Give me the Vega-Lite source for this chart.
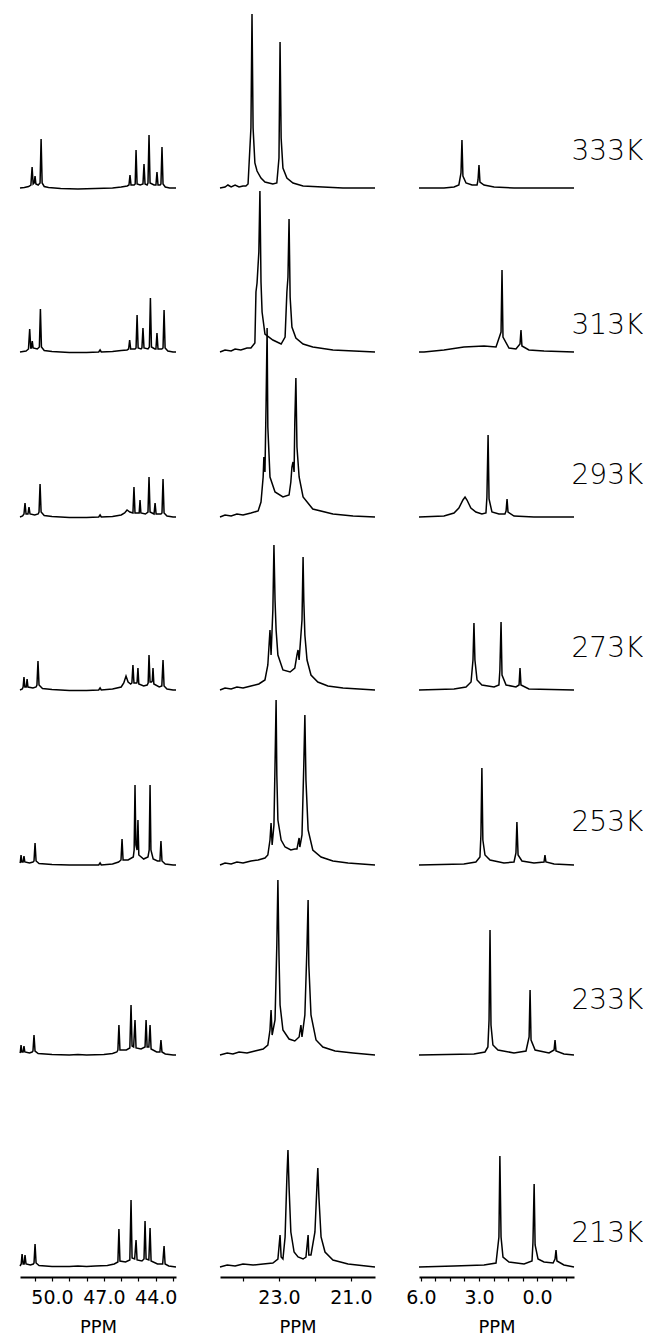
{
"$schema":"https://vega.github.io/schema/vega-lite/v6.json",
"padding":{"left":17,"top":0,"right":0,"bottom":0},
"background":"white",
"bounds":"flush",
"columns":3,
"spacing":{"row":0,"column":44},
"config":{"view":{"stroke":null},"line":{"color":"black","strokeWidth":1.5},
"axis":{"domainColor":"black","domainWidth":2,"tickColor":"black","tickSize":4,"tickWidth":1.2,"labelColor":"black","labelFont":"DejaVu Sans","labelFontWeight":"normal","labelFontSize":19,"titleFont":"DejaVu Sans","titleFontSize":18,"titleFontWeight":"normal","titleColor":"black","grid":false,"labelFlush":false,"labelOverlap":false}},
"datasets":{
"p1":[
{"t":"333K","ppm":51.85,"i":0},{"t":"333K","ppm":51.6,"i":0.5},{"t":"333K","ppm":51.35,"i":1.5},{"t":"333K","ppm":51.22,"i":3},{"t":"333K","ppm":51.15,"i":21},{"t":"333K","ppm":51.09,"i":4},{"t":"333K","ppm":51.03,"i":5},{"t":"333K","ppm":50.98,"i":12},{"t":"333K","ppm":50.93,"i":4},{"t":"333K","ppm":50.8,"i":3},{"t":"333K","ppm":50.69,"i":5},{"t":"333K","ppm":50.63,"i":49},{"t":"333K","ppm":50.57,"i":5},{"t":"333K","ppm":50.45,"i":1.5},{"t":"333K","ppm":50.2,"i":0.5},{"t":"333K","ppm":49.5,"i":-0.5},{"t":"333K","ppm":48.5,"i":-1},{"t":"333K","ppm":47.5,"i":-0.5},{"t":"333K","ppm":46.5,"i":0},{"t":"333K","ppm":46,"i":1},{"t":"333K","ppm":45.65,"i":2},{"t":"333K","ppm":45.55,"i":3},{"t":"333K","ppm":45.49,"i":13},{"t":"333K","ppm":45.43,"i":3},{"t":"333K","ppm":45.25,"i":3},{"t":"333K","ppm":45.19,"i":4},{"t":"333K","ppm":45.14,"i":38},{"t":"333K","ppm":45.08,"i":4},{"t":"333K","ppm":44.9,"i":3},{"t":"333K","ppm":44.74,"i":4},{"t":"333K","ppm":44.68,"i":24},{"t":"333K","ppm":44.62,"i":4},{"t":"333K","ppm":44.5,"i":3},{"t":"333K","ppm":44.45,"i":5},{"t":"333K","ppm":44.39,"i":53},{"t":"333K","ppm":44.33,"i":5},{"t":"333K","ppm":44.1,"i":3},{"t":"333K","ppm":43.99,"i":3},{"t":"333K","ppm":43.93,"i":16},{"t":"333K","ppm":43.87,"i":3},{"t":"333K","ppm":43.75,"i":3},{"t":"333K","ppm":43.7,"i":4},{"t":"333K","ppm":43.64,"i":41},{"t":"333K","ppm":43.58,"i":4},{"t":"333K","ppm":43.45,"i":1},{"t":"333K","ppm":43.2,"i":0},{"t":"333K","ppm":42.83,"i":0},
{"t":"313K","ppm":51.85,"i":0},{"t":"313K","ppm":51.5,"i":1},{"t":"313K","ppm":51.36,"i":3},{"t":"313K","ppm":51.29,"i":23},{"t":"313K","ppm":51.23,"i":4},{"t":"313K","ppm":51.19,"i":4},{"t":"313K","ppm":51.14,"i":11},{"t":"313K","ppm":51.09,"i":4},{"t":"313K","ppm":50.85,"i":3},{"t":"313K","ppm":50.73,"i":5},{"t":"313K","ppm":50.67,"i":43},{"t":"313K","ppm":50.61,"i":5},{"t":"313K","ppm":50.45,"i":1.5},{"t":"313K","ppm":50,"i":0.5},{"t":"313K","ppm":49,"i":-0.5},{"t":"313K","ppm":48,"i":-0.5},{"t":"313K","ppm":47.3,"i":0},{"t":"313K","ppm":47.22,"i":2},{"t":"313K","ppm":47.15,"i":0},{"t":"313K","ppm":46.5,"i":0.5},{"t":"313K","ppm":46,"i":1.5},{"t":"313K","ppm":45.66,"i":2},{"t":"313K","ppm":45.57,"i":3},{"t":"313K","ppm":45.51,"i":12},{"t":"313K","ppm":45.45,"i":3},{"t":"313K","ppm":45.2,"i":3},{"t":"313K","ppm":45.14,"i":4},{"t":"313K","ppm":45.08,"i":37},{"t":"313K","ppm":45.02,"i":4},{"t":"313K","ppm":44.85,"i":3},{"t":"313K","ppm":44.8,"i":4},{"t":"313K","ppm":44.74,"i":24},{"t":"313K","ppm":44.68,"i":4},{"t":"313K","ppm":44.45,"i":3},{"t":"313K","ppm":44.37,"i":5},{"t":"313K","ppm":44.31,"i":54},{"t":"313K","ppm":44.25,"i":5},{"t":"313K","ppm":44.05,"i":3},{"t":"313K","ppm":43.99,"i":3},{"t":"313K","ppm":43.93,"i":19},{"t":"313K","ppm":43.87,"i":3},{"t":"313K","ppm":43.65,"i":3},{"t":"313K","ppm":43.58,"i":4},{"t":"313K","ppm":43.52,"i":42},{"t":"313K","ppm":43.46,"i":4},{"t":"313K","ppm":43.3,"i":1},{"t":"313K","ppm":43,"i":0},{"t":"313K","ppm":42.83,"i":0},
{"t":"293K","ppm":51.85,"i":0},{"t":"293K","ppm":51.7,"i":1},{"t":"293K","ppm":51.62,"i":3},{"t":"293K","ppm":51.56,"i":14},{"t":"293K","ppm":51.5,"i":3},{"t":"293K","ppm":51.39,"i":3},{"t":"293K","ppm":51.33,"i":10},{"t":"293K","ppm":51.27,"i":3},{"t":"293K","ppm":51,"i":2},{"t":"293K","ppm":50.8,"i":3},{"t":"293K","ppm":50.75,"i":5},{"t":"293K","ppm":50.69,"i":33},{"t":"293K","ppm":50.63,"i":5},{"t":"293K","ppm":50.45,"i":1.5},{"t":"293K","ppm":50,"i":0.5},{"t":"293K","ppm":49,"i":-0.5},{"t":"293K","ppm":48,"i":-0.5},{"t":"293K","ppm":47.3,"i":0},{"t":"293K","ppm":47.22,"i":2},{"t":"293K","ppm":47.15,"i":0},{"t":"293K","ppm":46.5,"i":0.5},{"t":"293K","ppm":46,"i":2},{"t":"293K","ppm":45.8,"i":4},{"t":"293K","ppm":45.66,"i":7},{"t":"293K","ppm":45.5,"i":5},{"t":"293K","ppm":45.32,"i":4},{"t":"293K","ppm":45.26,"i":30},{"t":"293K","ppm":45.2,"i":4},{"t":"293K","ppm":45,"i":4},{"t":"293K","ppm":44.96,"i":4},{"t":"293K","ppm":44.91,"i":17},{"t":"293K","ppm":44.86,"i":4},{"t":"293K","ppm":44.6,"i":3},{"t":"293K","ppm":44.45,"i":5},{"t":"293K","ppm":44.39,"i":40},{"t":"293K","ppm":44.33,"i":5},{"t":"293K","ppm":44.1,"i":3},{"t":"293K","ppm":44.04,"i":14},{"t":"293K","ppm":43.98,"i":3},{"t":"293K","ppm":43.7,"i":3},{"t":"293K","ppm":43.64,"i":4},{"t":"293K","ppm":43.58,"i":38},{"t":"293K","ppm":43.52,"i":4},{"t":"293K","ppm":43.35,"i":1},{"t":"293K","ppm":43,"i":0},{"t":"293K","ppm":42.83,"i":0},
{"t":"273K","ppm":51.85,"i":0},{"t":"273K","ppm":51.72,"i":1},{"t":"273K","ppm":51.67,"i":3},{"t":"273K","ppm":51.62,"i":13},{"t":"273K","ppm":51.57,"i":3},{"t":"273K","ppm":51.49,"i":3},{"t":"273K","ppm":51.44,"i":11},{"t":"273K","ppm":51.39,"i":3},{"t":"273K","ppm":51.1,"i":2},{"t":"273K","ppm":50.92,"i":3},{"t":"273K","ppm":50.87,"i":5},{"t":"273K","ppm":50.81,"i":29},{"t":"273K","ppm":50.75,"i":5},{"t":"273K","ppm":50.55,"i":1.5},{"t":"273K","ppm":50,"i":0.5},{"t":"273K","ppm":49,"i":-0.5},{"t":"273K","ppm":48,"i":-0.5},{"t":"273K","ppm":47.3,"i":0},{"t":"273K","ppm":47.22,"i":2},{"t":"273K","ppm":47.15,"i":0},{"t":"273K","ppm":46.5,"i":1},{"t":"273K","ppm":46,"i":3},{"t":"273K","ppm":45.85,"i":7},{"t":"273K","ppm":45.72,"i":14},{"t":"273K","ppm":45.6,"i":8},{"t":"273K","ppm":45.45,"i":6},{"t":"273K","ppm":45.38,"i":7},{"t":"273K","ppm":45.32,"i":25},{"t":"273K","ppm":45.26,"i":7},{"t":"273K","ppm":45.1,"i":7},{"t":"273K","ppm":45.08,"i":8},{"t":"273K","ppm":45.03,"i":22},{"t":"273K","ppm":44.98,"i":6},{"t":"273K","ppm":44.7,"i":4},{"t":"273K","ppm":44.5,"i":5},{"t":"273K","ppm":44.44,"i":7},{"t":"273K","ppm":44.39,"i":35},{"t":"273K","ppm":44.33,"i":8},{"t":"273K","ppm":44.24,"i":8},{"t":"273K","ppm":44.2,"i":9},{"t":"273K","ppm":44.16,"i":22},{"t":"273K","ppm":44.11,"i":6},{"t":"273K","ppm":43.8,"i":3},{"t":"273K","ppm":43.65,"i":4},{"t":"273K","ppm":43.58,"i":30},{"t":"273K","ppm":43.52,"i":4},{"t":"273K","ppm":43.35,"i":1},{"t":"273K","ppm":43,"i":0},{"t":"273K","ppm":42.83,"i":0},
{"t":"253K","ppm":51.85,"i":2},{"t":"253K","ppm":51.83,"i":3},{"t":"253K","ppm":51.79,"i":10},{"t":"253K","ppm":51.74,"i":3},{"t":"253K","ppm":51.67,"i":3},{"t":"253K","ppm":51.62,"i":9},{"t":"253K","ppm":51.57,"i":3},{"t":"253K","ppm":51.3,"i":2},{"t":"253K","ppm":51.1,"i":3},{"t":"253K","ppm":51.04,"i":4},{"t":"253K","ppm":50.98,"i":22},{"t":"253K","ppm":50.92,"i":4},{"t":"253K","ppm":50.75,"i":1.5},{"t":"253K","ppm":50,"i":0.5},{"t":"253K","ppm":49,"i":0},{"t":"253K","ppm":48,"i":0},{"t":"253K","ppm":47.3,"i":0},{"t":"253K","ppm":47.22,"i":2},{"t":"253K","ppm":47.15,"i":0},{"t":"253K","ppm":46.5,"i":1},{"t":"253K","ppm":46.15,"i":3},{"t":"253K","ppm":46.01,"i":5},{"t":"253K","ppm":45.95,"i":26},{"t":"253K","ppm":45.89,"i":5},{"t":"253K","ppm":45.6,"i":5},{"t":"253K","ppm":45.3,"i":8},{"t":"253K","ppm":45.25,"i":15},{"t":"253K","ppm":45.2,"i":80},{"t":"253K","ppm":45.15,"i":20},{"t":"253K","ppm":45.08,"i":15},{"t":"253K","ppm":45.03,"i":45},{"t":"253K","ppm":44.98,"i":10},{"t":"253K","ppm":44.7,"i":6},{"t":"253K","ppm":44.45,"i":8},{"t":"253K","ppm":44.38,"i":15},{"t":"253K","ppm":44.33,"i":80},{"t":"253K","ppm":44.28,"i":15},{"t":"253K","ppm":44.15,"i":6},{"t":"253K","ppm":43.9,"i":4},{"t":"253K","ppm":43.76,"i":4},{"t":"253K","ppm":43.7,"i":24},{"t":"253K","ppm":43.64,"i":4},{"t":"253K","ppm":43.45,"i":1},{"t":"253K","ppm":43,"i":0},{"t":"253K","ppm":42.83,"i":0},
{"t":"233K","ppm":51.85,"i":2},{"t":"233K","ppm":51.83,"i":3},{"t":"233K","ppm":51.79,"i":10},{"t":"233K","ppm":51.74,"i":3},{"t":"233K","ppm":51.67,"i":3},{"t":"233K","ppm":51.62,"i":9},{"t":"233K","ppm":51.57,"i":3},{"t":"233K","ppm":51.3,"i":2},{"t":"233K","ppm":51.15,"i":3},{"t":"233K","ppm":51.1,"i":4},{"t":"233K","ppm":51.04,"i":20},{"t":"233K","ppm":50.98,"i":4},{"t":"233K","ppm":50.8,"i":1.5},{"t":"233K","ppm":50,"i":0.5},{"t":"233K","ppm":49,"i":0},{"t":"233K","ppm":48.5,"i":0.5},{"t":"233K","ppm":48,"i":0},{"t":"233K","ppm":47,"i":0.5},{"t":"233K","ppm":46.5,"i":1.5},{"t":"233K","ppm":46.25,"i":3},{"t":"233K","ppm":46.19,"i":5},{"t":"233K","ppm":46.13,"i":30},{"t":"233K","ppm":46.07,"i":5},{"t":"233K","ppm":45.7,"i":5},{"t":"233K","ppm":45.5,"i":7},{"t":"233K","ppm":45.43,"i":50},{"t":"233K","ppm":45.37,"i":9},{"t":"233K","ppm":45.28,"i":8},{"t":"233K","ppm":45.2,"i":35},{"t":"233K","ppm":45.14,"i":7},{"t":"233K","ppm":44.85,"i":6},{"t":"233K","ppm":44.62,"i":8},{"t":"233K","ppm":44.56,"i":35},{"t":"233K","ppm":44.5,"i":8},{"t":"233K","ppm":44.4,"i":8},{"t":"233K","ppm":44.33,"i":30},{"t":"233K","ppm":44.27,"i":6},{"t":"233K","ppm":43.95,"i":3},{"t":"233K","ppm":43.76,"i":3},{"t":"233K","ppm":43.7,"i":15},{"t":"233K","ppm":43.64,"i":3},{"t":"233K","ppm":43.45,"i":1},{"t":"233K","ppm":43,"i":0},{"t":"233K","ppm":42.83,"i":0},
{"t":"213K","ppm":51.85,"i":1},{"t":"213K","ppm":51.78,"i":3},{"t":"213K","ppm":51.73,"i":13},{"t":"213K","ppm":51.67,"i":3},{"t":"213K","ppm":51.61,"i":3},{"t":"213K","ppm":51.56,"i":12},{"t":"213K","ppm":51.5,"i":3},{"t":"213K","ppm":51.25,"i":2},{"t":"213K","ppm":51.08,"i":3},{"t":"213K","ppm":51.04,"i":4},{"t":"213K","ppm":50.98,"i":23},{"t":"213K","ppm":50.92,"i":4},{"t":"213K","ppm":50.75,"i":1.5},{"t":"213K","ppm":50,"i":0.5},{"t":"213K","ppm":49,"i":0.5},{"t":"213K","ppm":48.5,"i":1},{"t":"213K","ppm":48,"i":0.5},{"t":"213K","ppm":47.5,"i":1},{"t":"213K","ppm":46.8,"i":1.5},{"t":"213K","ppm":46.4,"i":3},{"t":"213K","ppm":46.19,"i":5},{"t":"213K","ppm":46.13,"i":38},{"t":"213K","ppm":46.07,"i":6},{"t":"213K","ppm":45.75,"i":5},{"t":"213K","ppm":45.5,"i":7},{"t":"213K","ppm":45.43,"i":67},{"t":"213K","ppm":45.37,"i":9},{"t":"213K","ppm":45.22,"i":8},{"t":"213K","ppm":45.14,"i":27},{"t":"213K","ppm":45.08,"i":7},{"t":"213K","ppm":44.8,"i":6},{"t":"213K","ppm":44.68,"i":8},{"t":"213K","ppm":44.62,"i":46},{"t":"213K","ppm":44.56,"i":8},{"t":"213K","ppm":44.4,"i":7},{"t":"213K","ppm":44.33,"i":39},{"t":"213K","ppm":44.27,"i":6},{"t":"213K","ppm":43.9,"i":3},{"t":"213K","ppm":43.6,"i":3},{"t":"213K","ppm":43.52,"i":21},{"t":"213K","ppm":43.46,"i":3},{"t":"213K","ppm":43.25,"i":1},{"t":"213K","ppm":42.83,"i":0}
],
"p2":[
{"t":"333K","ppm":24.64,"i":0},{"t":"333K","ppm":24.5,"i":1},{"t":"333K","ppm":24.42,"i":3},{"t":"333K","ppm":24.33,"i":1},{"t":"333K","ppm":24.22,"i":3},{"t":"333K","ppm":24.11,"i":1},{"t":"333K","ppm":24,"i":2},{"t":"333K","ppm":23.92,"i":2},{"t":"333K","ppm":23.86,"i":4},{"t":"333K","ppm":23.78,"i":60},{"t":"333K","ppm":23.75,"i":174},{"t":"333K","ppm":23.72,"i":60},{"t":"333K","ppm":23.67,"i":25},{"t":"333K","ppm":23.61,"i":17},{"t":"333K","ppm":23.5,"i":10},{"t":"333K","ppm":23.39,"i":6},{"t":"333K","ppm":23.17,"i":4},{"t":"333K","ppm":23.06,"i":5},{"t":"333K","ppm":23,"i":30},{"t":"333K","ppm":22.97,"i":146},{"t":"333K","ppm":22.94,"i":50},{"t":"333K","ppm":22.89,"i":20},{"t":"333K","ppm":22.78,"i":10},{"t":"333K","ppm":22.61,"i":5},{"t":"333K","ppm":22.33,"i":2},{"t":"333K","ppm":21.78,"i":1},{"t":"333K","ppm":21.22,"i":0},{"t":"333K","ppm":20.33,"i":0},
{"t":"313K","ppm":24.64,"i":0},{"t":"313K","ppm":24.5,"i":2},{"t":"313K","ppm":24.33,"i":1},{"t":"313K","ppm":24.22,"i":3},{"t":"313K","ppm":24.06,"i":2},{"t":"313K","ppm":23.89,"i":4},{"t":"313K","ppm":23.78,"i":4},{"t":"313K","ppm":23.67,"i":9},{"t":"313K","ppm":23.64,"i":60},{"t":"313K","ppm":23.61,"i":69},{"t":"313K","ppm":23.56,"i":100},{"t":"313K","ppm":23.53,"i":161},{"t":"313K","ppm":23.5,"i":70},{"t":"313K","ppm":23.47,"i":40},{"t":"313K","ppm":23.39,"i":18},{"t":"313K","ppm":23.17,"i":12},{"t":"313K","ppm":22.94,"i":8},{"t":"313K","ppm":22.83,"i":15},{"t":"313K","ppm":22.78,"i":60},{"t":"313K","ppm":22.75,"i":75},{"t":"313K","ppm":22.72,"i":133},{"t":"313K","ppm":22.69,"i":55},{"t":"313K","ppm":22.64,"i":25},{"t":"313K","ppm":22.53,"i":14},{"t":"313K","ppm":22.33,"i":8},{"t":"313K","ppm":22.06,"i":5},{"t":"313K","ppm":21.5,"i":2},{"t":"313K","ppm":20.33,"i":0},
{"t":"293K","ppm":24.64,"i":0},{"t":"293K","ppm":24.5,"i":2},{"t":"293K","ppm":24.33,"i":1},{"t":"293K","ppm":24.17,"i":3},{"t":"293K","ppm":24,"i":2},{"t":"293K","ppm":23.78,"i":4},{"t":"293K","ppm":23.58,"i":6},{"t":"293K","ppm":23.5,"i":15},{"t":"293K","ppm":23.44,"i":40},{"t":"293K","ppm":23.42,"i":60},{"t":"293K","ppm":23.39,"i":45},{"t":"293K","ppm":23.36,"i":110},{"t":"293K","ppm":23.33,"i":189},{"t":"293K","ppm":23.31,"i":90},{"t":"293K","ppm":23.25,"i":40},{"t":"293K","ppm":23.11,"i":25},{"t":"293K","ppm":22.89,"i":20},{"t":"293K","ppm":22.72,"i":22},{"t":"293K","ppm":22.67,"i":35},{"t":"293K","ppm":22.64,"i":50},{"t":"293K","ppm":22.61,"i":55},{"t":"293K","ppm":22.58,"i":45},{"t":"293K","ppm":22.56,"i":95},{"t":"293K","ppm":22.53,"i":139},{"t":"293K","ppm":22.5,"i":70},{"t":"293K","ppm":22.44,"i":40},{"t":"293K","ppm":22.33,"i":20},{"t":"293K","ppm":22.06,"i":8},{"t":"293K","ppm":21.5,"i":3},{"t":"293K","ppm":20.94,"i":1},{"t":"293K","ppm":20.33,"i":0},
{"t":"273K","ppm":24.64,"i":0},{"t":"273K","ppm":24.5,"i":2},{"t":"273K","ppm":24.33,"i":1},{"t":"273K","ppm":24.17,"i":3},{"t":"273K","ppm":24,"i":2},{"t":"273K","ppm":23.78,"i":4},{"t":"273K","ppm":23.56,"i":6},{"t":"273K","ppm":23.39,"i":10},{"t":"273K","ppm":23.31,"i":25},{"t":"273K","ppm":23.25,"i":60},{"t":"273K","ppm":23.22,"i":35},{"t":"273K","ppm":23.17,"i":80},{"t":"273K","ppm":23.14,"i":145},{"t":"273K","ppm":23.11,"i":90},{"t":"273K","ppm":23.08,"i":60},{"t":"273K","ppm":23.03,"i":35},{"t":"273K","ppm":22.89,"i":20},{"t":"273K","ppm":22.69,"i":18},{"t":"273K","ppm":22.56,"i":22},{"t":"273K","ppm":22.5,"i":35},{"t":"273K","ppm":22.47,"i":40},{"t":"273K","ppm":22.44,"i":30},{"t":"273K","ppm":22.36,"i":70},{"t":"273K","ppm":22.33,"i":133},{"t":"273K","ppm":22.31,"i":90},{"t":"273K","ppm":22.28,"i":55},{"t":"273K","ppm":22.22,"i":30},{"t":"273K","ppm":22.11,"i":15},{"t":"273K","ppm":21.92,"i":8},{"t":"273K","ppm":21.64,"i":4},{"t":"273K","ppm":21.22,"i":2},{"t":"273K","ppm":20.33,"i":0},
{"t":"253K","ppm":24.64,"i":0},{"t":"253K","ppm":24.5,"i":2},{"t":"253K","ppm":24.33,"i":1},{"t":"253K","ppm":24.17,"i":3},{"t":"253K","ppm":24,"i":2},{"t":"253K","ppm":23.78,"i":4},{"t":"253K","ppm":23.58,"i":5},{"t":"253K","ppm":23.39,"i":7},{"t":"253K","ppm":23.31,"i":10},{"t":"253K","ppm":23.25,"i":25},{"t":"253K","ppm":23.22,"i":42},{"t":"253K","ppm":23.19,"i":20},{"t":"253K","ppm":23.14,"i":40},{"t":"253K","ppm":23.11,"i":100},{"t":"253K","ppm":23.08,"i":165},{"t":"253K","ppm":23.06,"i":90},{"t":"253K","ppm":23.03,"i":45},{"t":"253K","ppm":22.94,"i":25},{"t":"253K","ppm":22.83,"i":18},{"t":"253K","ppm":22.67,"i":15},{"t":"253K","ppm":22.56,"i":16},{"t":"253K","ppm":22.5,"i":16},{"t":"253K","ppm":22.44,"i":27},{"t":"253K","ppm":22.42,"i":18},{"t":"253K","ppm":22.36,"i":30},{"t":"253K","ppm":22.31,"i":100},{"t":"253K","ppm":22.28,"i":150},{"t":"253K","ppm":22.25,"i":85},{"t":"253K","ppm":22.19,"i":35},{"t":"253K","ppm":22.06,"i":15},{"t":"253K","ppm":21.83,"i":8},{"t":"253K","ppm":21.5,"i":4},{"t":"253K","ppm":21.08,"i":2},{"t":"253K","ppm":20.33,"i":0},
{"t":"233K","ppm":24.64,"i":0},{"t":"233K","ppm":24.44,"i":2},{"t":"233K","ppm":24.28,"i":1},{"t":"233K","ppm":24.11,"i":3},{"t":"233K","ppm":23.89,"i":2},{"t":"233K","ppm":23.67,"i":4},{"t":"233K","ppm":23.44,"i":6},{"t":"233K","ppm":23.31,"i":10},{"t":"233K","ppm":23.25,"i":25},{"t":"233K","ppm":23.22,"i":45},{"t":"233K","ppm":23.19,"i":20},{"t":"233K","ppm":23.11,"i":35},{"t":"233K","ppm":23.06,"i":110},{"t":"233K","ppm":23.03,"i":175},{"t":"233K","ppm":23,"i":100},{"t":"233K","ppm":22.97,"i":50},{"t":"233K","ppm":22.89,"i":25},{"t":"233K","ppm":22.72,"i":16},{"t":"233K","ppm":22.56,"i":14},{"t":"233K","ppm":22.44,"i":18},{"t":"233K","ppm":22.39,"i":30},{"t":"233K","ppm":22.36,"i":18},{"t":"233K","ppm":22.28,"i":40},{"t":"233K","ppm":22.22,"i":110},{"t":"233K","ppm":22.19,"i":155},{"t":"233K","ppm":22.17,"i":90},{"t":"233K","ppm":22.11,"i":40},{"t":"233K","ppm":21.97,"i":15},{"t":"233K","ppm":21.78,"i":8},{"t":"233K","ppm":21.44,"i":4},{"t":"233K","ppm":20.94,"i":2},{"t":"233K","ppm":20.33,"i":0},
{"t":"213K","ppm":24.64,"i":0},{"t":"213K","ppm":24.44,"i":2},{"t":"213K","ppm":24.22,"i":1},{"t":"213K","ppm":24,"i":3},{"t":"213K","ppm":23.72,"i":2},{"t":"213K","ppm":23.44,"i":3},{"t":"213K","ppm":23.17,"i":4},{"t":"213K","ppm":23.03,"i":8},{"t":"213K","ppm":22.97,"i":32},{"t":"213K","ppm":22.94,"i":10},{"t":"213K","ppm":22.89,"i":8},{"t":"213K","ppm":22.83,"i":30},{"t":"213K","ppm":22.78,"i":90},{"t":"213K","ppm":22.75,"i":117},{"t":"213K","ppm":22.72,"i":80},{"t":"213K","ppm":22.67,"i":35},{"t":"213K","ppm":22.58,"i":15},{"t":"213K","ppm":22.47,"i":10},{"t":"213K","ppm":22.33,"i":8},{"t":"213K","ppm":22.25,"i":10},{"t":"213K","ppm":22.19,"i":32},{"t":"213K","ppm":22.17,"i":12},{"t":"213K","ppm":22.11,"i":12},{"t":"213K","ppm":22,"i":35},{"t":"213K","ppm":21.94,"i":85},{"t":"213K","ppm":21.92,"i":99},{"t":"213K","ppm":21.89,"i":70},{"t":"213K","ppm":21.83,"i":30},{"t":"213K","ppm":21.72,"i":15},{"t":"213K","ppm":21.5,"i":7},{"t":"213K","ppm":21.08,"i":3},{"t":"213K","ppm":20.33,"i":0}
],
"p3":[
{"t":"333K","ppm":6.1,"i":0},{"t":"333K","ppm":4.81,"i":0},{"t":"333K","ppm":4.29,"i":1},{"t":"333K","ppm":4.04,"i":3},{"t":"333K","ppm":3.93,"i":15},{"t":"333K","ppm":3.88,"i":48},{"t":"333K","ppm":3.83,"i":12},{"t":"333K","ppm":3.67,"i":5},{"t":"333K","ppm":3.36,"i":3},{"t":"333K","ppm":3.1,"i":3},{"t":"333K","ppm":3.05,"i":8},{"t":"333K","ppm":3,"i":23},{"t":"333K","ppm":2.95,"i":6},{"t":"333K","ppm":2.74,"i":3},{"t":"333K","ppm":2.22,"i":1},{"t":"333K","ppm":1.19,"i":0},{"t":"333K","ppm":-1.91,"i":0},
{"t":"313K","ppm":6.1,"i":0},{"t":"313K","ppm":5.84,"i":0},{"t":"313K","ppm":4.81,"i":2},{"t":"313K","ppm":3.78,"i":5},{"t":"313K","ppm":2.74,"i":6},{"t":"313K","ppm":2.12,"i":5},{"t":"313K","ppm":1.86,"i":20},{"t":"313K","ppm":1.81,"i":82},{"t":"313K","ppm":1.76,"i":15},{"t":"313K","ppm":1.45,"i":4},{"t":"313K","ppm":1.09,"i":3},{"t":"313K","ppm":0.88,"i":8},{"t":"313K","ppm":0.83,"i":22},{"t":"313K","ppm":0.78,"i":6},{"t":"313K","ppm":0.42,"i":2},{"t":"313K","ppm":-0.36,"i":1},{"t":"313K","ppm":-1.91,"i":0},
{"t":"293K","ppm":6.1,"i":0},{"t":"293K","ppm":4.81,"i":1},{"t":"293K","ppm":4.29,"i":4},{"t":"293K","ppm":4.04,"i":9},{"t":"293K","ppm":3.83,"i":17},{"t":"293K","ppm":3.72,"i":20},{"t":"293K","ppm":3.62,"i":17},{"t":"293K","ppm":3.42,"i":9},{"t":"293K","ppm":3.16,"i":5},{"t":"293K","ppm":2.85,"i":3},{"t":"293K","ppm":2.64,"i":4},{"t":"293K","ppm":2.59,"i":20},{"t":"293K","ppm":2.53,"i":82},{"t":"293K","ppm":2.48,"i":18},{"t":"293K","ppm":2.33,"i":5},{"t":"293K","ppm":1.97,"i":3},{"t":"293K","ppm":1.66,"i":3},{"t":"293K","ppm":1.6,"i":6},{"t":"293K","ppm":1.55,"i":18},{"t":"293K","ppm":1.5,"i":5},{"t":"293K","ppm":1.19,"i":1},{"t":"293K","ppm":0.16,"i":0},{"t":"293K","ppm":-1.91,"i":0},
{"t":"273K","ppm":6.1,"i":0},{"t":"273K","ppm":4.29,"i":1},{"t":"273K","ppm":3.67,"i":3},{"t":"273K","ppm":3.41,"i":8},{"t":"273K","ppm":3.31,"i":30},{"t":"273K","ppm":3.26,"i":67},{"t":"273K","ppm":3.21,"i":30},{"t":"273K","ppm":3.1,"i":10},{"t":"273K","ppm":2.85,"i":5},{"t":"273K","ppm":2.22,"i":3},{"t":"273K","ppm":1.97,"i":5},{"t":"273K","ppm":1.92,"i":20},{"t":"273K","ppm":1.86,"i":68},{"t":"273K","ppm":1.81,"i":15},{"t":"273K","ppm":1.6,"i":5},{"t":"273K","ppm":1.09,"i":3},{"t":"273K","ppm":0.93,"i":5},{"t":"273K","ppm":0.88,"i":22},{"t":"273K","ppm":0.83,"i":5},{"t":"273K","ppm":0.42,"i":1},{"t":"273K","ppm":-1.91,"i":0},
{"t":"253K","ppm":6.1,"i":0},{"t":"253K","ppm":3.78,"i":1},{"t":"253K","ppm":3.16,"i":3},{"t":"253K","ppm":2.95,"i":8},{"t":"253K","ppm":2.9,"i":30},{"t":"253K","ppm":2.85,"i":97},{"t":"253K","ppm":2.8,"i":25},{"t":"253K","ppm":2.69,"i":10},{"t":"253K","ppm":2.43,"i":5},{"t":"253K","ppm":1.71,"i":2},{"t":"253K","ppm":1.19,"i":3},{"t":"253K","ppm":1.09,"i":12},{"t":"253K","ppm":1.04,"i":43},{"t":"253K","ppm":0.98,"i":10},{"t":"253K","ppm":0.78,"i":4},{"t":"253K","ppm":0.16,"i":2},{"t":"253K","ppm":-0.36,"i":3},{"t":"253K","ppm":-0.41,"i":10},{"t":"253K","ppm":-0.46,"i":3},{"t":"253K","ppm":-0.88,"i":1},{"t":"253K","ppm":-1.91,"i":0},
{"t":"233K","ppm":6.1,"i":0},{"t":"233K","ppm":3.26,"i":1},{"t":"233K","ppm":2.69,"i":3},{"t":"233K","ppm":2.54,"i":8},{"t":"233K","ppm":2.48,"i":35},{"t":"233K","ppm":2.43,"i":125},{"t":"233K","ppm":2.38,"i":30},{"t":"233K","ppm":2.28,"i":10},{"t":"233K","ppm":2.02,"i":5},{"t":"233K","ppm":1.19,"i":2},{"t":"233K","ppm":0.57,"i":4},{"t":"233K","ppm":0.41,"i":18},{"t":"233K","ppm":0.36,"i":65},{"t":"233K","ppm":0.31,"i":15},{"t":"233K","ppm":0.1,"i":5},{"t":"233K","ppm":-0.62,"i":2},{"t":"233K","ppm":-0.88,"i":5},{"t":"233K","ppm":-0.93,"i":15},{"t":"233K","ppm":-0.98,"i":4},{"t":"233K","ppm":-1.39,"i":1},{"t":"233K","ppm":-1.91,"i":0},
{"t":"213K","ppm":6.1,"i":0},{"t":"213K","ppm":4.29,"i":1},{"t":"213K","ppm":2.74,"i":2},{"t":"213K","ppm":2.12,"i":4},{"t":"213K","ppm":1.97,"i":30},{"t":"213K","ppm":1.92,"i":111},{"t":"213K","ppm":1.86,"i":30},{"t":"213K","ppm":1.76,"i":10},{"t":"213K","ppm":1.45,"i":5},{"t":"213K","ppm":0.67,"i":3},{"t":"213K","ppm":0.26,"i":6},{"t":"213K","ppm":0.21,"i":25},{"t":"213K","ppm":0.15,"i":83},{"t":"213K","ppm":0.1,"i":22},{"t":"213K","ppm":-0.05,"i":8},{"t":"213K","ppm":-0.36,"i":5},{"t":"213K","ppm":-0.83,"i":4},{"t":"213K","ppm":-0.93,"i":8},{"t":"213K","ppm":-0.98,"i":17},{"t":"213K","ppm":-1.03,"i":6},{"t":"213K","ppm":-1.39,"i":2},{"t":"213K","ppm":-1.91,"i":0}
]},
"concat":[
{"width":156,"height":188,"data":{"name":"p1"},"transform":[{"filter":{"field":"t","equal":"333K"}}],"mark":{"type":"line","clip":false},"encoding":{"x":{"field":"ppm","type":"quantitative","scale":{"domain":[42.83,51.85],"reverse":true,"nice":false,"zero":false},"axis":null},"y":{"field":"i","type":"quantitative","scale":{"domain":[0,188],"nice":false,"zero":false},"axis":null}}},
{"width":155,"height":188,"data":{"name":"p2"},"transform":[{"filter":{"field":"t","equal":"333K"}}],"mark":{"type":"line","clip":false},"encoding":{"x":{"field":"ppm","type":"quantitative","scale":{"domain":[20.33,24.64],"reverse":true,"nice":false,"zero":false},"axis":null},"y":{"field":"i","type":"quantitative","scale":{"domain":[0,188],"nice":false,"zero":false},"axis":null}}},
{"width":155,"height":188,"data":{"name":"p3"},"transform":[{"filter":{"field":"t","equal":"333K"}}],"mark":{"type":"line","clip":false},"encoding":{"x":{"field":"ppm","type":"quantitative","scale":{"domain":[-1.91,6.1],"reverse":true,"nice":false,"zero":false},"axis":null},"y":{"field":"i","type":"quantitative","scale":{"domain":[0,188],"nice":false,"zero":false},"axis":{"orient":"right","domain":false,"ticks":false,"labels":false,"title":"333K","titleAngle":0,"titleAlign":"left","titleBaseline":"middle","titleX":-3,"titleY":151,"titleFontSize":28,"titleFontWeight":200}}}},

{"width":156,"height":164,"data":{"name":"p1"},"transform":[{"filter":{"field":"t","equal":"313K"}}],"mark":{"type":"line","clip":false},"encoding":{"x":{"field":"ppm","type":"quantitative","scale":{"domain":[42.83,51.85],"reverse":true,"nice":false,"zero":false},"axis":null},"y":{"field":"i","type":"quantitative","scale":{"domain":[0,164],"nice":false,"zero":false},"axis":null}}},
{"width":155,"height":164,"data":{"name":"p2"},"transform":[{"filter":{"field":"t","equal":"313K"}}],"mark":{"type":"line","clip":false},"encoding":{"x":{"field":"ppm","type":"quantitative","scale":{"domain":[20.33,24.64],"reverse":true,"nice":false,"zero":false},"axis":null},"y":{"field":"i","type":"quantitative","scale":{"domain":[0,164],"nice":false,"zero":false},"axis":null}}},
{"width":155,"height":164,"data":{"name":"p3"},"transform":[{"filter":{"field":"t","equal":"313K"}}],"mark":{"type":"line","clip":false},"encoding":{"x":{"field":"ppm","type":"quantitative","scale":{"domain":[-1.91,6.1],"reverse":true,"nice":false,"zero":false},"axis":null},"y":{"field":"i","type":"quantitative","scale":{"domain":[0,164],"nice":false,"zero":false},"axis":{"orient":"right","domain":false,"ticks":false,"labels":false,"title":"313K","titleAngle":0,"titleAlign":"left","titleBaseline":"middle","titleX":-3,"titleY":137,"titleFontSize":28,"titleFontWeight":200}}}},

{"width":156,"height":165,"data":{"name":"p1"},"transform":[{"filter":{"field":"t","equal":"293K"}}],"mark":{"type":"line","clip":false},"encoding":{"x":{"field":"ppm","type":"quantitative","scale":{"domain":[42.83,51.85],"reverse":true,"nice":false,"zero":false},"axis":null},"y":{"field":"i","type":"quantitative","scale":{"domain":[0,165],"nice":false,"zero":false},"axis":null}}},
{"width":155,"height":165,"data":{"name":"p2"},"transform":[{"filter":{"field":"t","equal":"293K"}}],"mark":{"type":"line","clip":false},"encoding":{"x":{"field":"ppm","type":"quantitative","scale":{"domain":[20.33,24.64],"reverse":true,"nice":false,"zero":false},"axis":null},"y":{"field":"i","type":"quantitative","scale":{"domain":[0,165],"nice":false,"zero":false},"axis":null}}},
{"width":155,"height":165,"data":{"name":"p3"},"transform":[{"filter":{"field":"t","equal":"293K"}}],"mark":{"type":"line","clip":false},"encoding":{"x":{"field":"ppm","type":"quantitative","scale":{"domain":[-1.91,6.1],"reverse":true,"nice":false,"zero":false},"axis":null},"y":{"field":"i","type":"quantitative","scale":{"domain":[0,165],"nice":false,"zero":false},"axis":{"orient":"right","domain":false,"ticks":false,"labels":false,"title":"293K","titleAngle":0,"titleAlign":"left","titleBaseline":"middle","titleX":-3,"titleY":123,"titleFontSize":28,"titleFontWeight":200}}}},

{"width":156,"height":173,"data":{"name":"p1"},"transform":[{"filter":{"field":"t","equal":"273K"}}],"mark":{"type":"line","clip":false},"encoding":{"x":{"field":"ppm","type":"quantitative","scale":{"domain":[42.83,51.85],"reverse":true,"nice":false,"zero":false},"axis":null},"y":{"field":"i","type":"quantitative","scale":{"domain":[0,173],"nice":false,"zero":false},"axis":null}}},
{"width":155,"height":173,"data":{"name":"p2"},"transform":[{"filter":{"field":"t","equal":"273K"}}],"mark":{"type":"line","clip":false},"encoding":{"x":{"field":"ppm","type":"quantitative","scale":{"domain":[20.33,24.64],"reverse":true,"nice":false,"zero":false},"axis":null},"y":{"field":"i","type":"quantitative","scale":{"domain":[0,173],"nice":false,"zero":false},"axis":null}}},
{"width":155,"height":173,"data":{"name":"p3"},"transform":[{"filter":{"field":"t","equal":"273K"}}],"mark":{"type":"line","clip":false},"encoding":{"x":{"field":"ppm","type":"quantitative","scale":{"domain":[-1.91,6.1],"reverse":true,"nice":false,"zero":false},"axis":null},"y":{"field":"i","type":"quantitative","scale":{"domain":[0,173],"nice":false,"zero":false},"axis":{"orient":"right","domain":false,"ticks":false,"labels":false,"title":"273K","titleAngle":0,"titleAlign":"left","titleBaseline":"middle","titleX":-3,"titleY":131,"titleFontSize":28,"titleFontWeight":200}}}},

{"width":156,"height":175,"data":{"name":"p1"},"transform":[{"filter":{"field":"t","equal":"253K"}}],"mark":{"type":"line","clip":false},"encoding":{"x":{"field":"ppm","type":"quantitative","scale":{"domain":[42.83,51.85],"reverse":true,"nice":false,"zero":false},"axis":null},"y":{"field":"i","type":"quantitative","scale":{"domain":[0,175],"nice":false,"zero":false},"axis":null}}},
{"width":155,"height":175,"data":{"name":"p2"},"transform":[{"filter":{"field":"t","equal":"253K"}}],"mark":{"type":"line","clip":false},"encoding":{"x":{"field":"ppm","type":"quantitative","scale":{"domain":[20.33,24.64],"reverse":true,"nice":false,"zero":false},"axis":null},"y":{"field":"i","type":"quantitative","scale":{"domain":[0,175],"nice":false,"zero":false},"axis":null}}},
{"width":155,"height":175,"data":{"name":"p3"},"transform":[{"filter":{"field":"t","equal":"253K"}}],"mark":{"type":"line","clip":false},"encoding":{"x":{"field":"ppm","type":"quantitative","scale":{"domain":[-1.91,6.1],"reverse":true,"nice":false,"zero":false},"axis":null},"y":{"field":"i","type":"quantitative","scale":{"domain":[0,175],"nice":false,"zero":false},"axis":{"orient":"right","domain":false,"ticks":false,"labels":false,"title":"253K","titleAngle":0,"titleAlign":"left","titleBaseline":"middle","titleX":-3,"titleY":132,"titleFontSize":28,"titleFontWeight":200}}}},

{"width":156,"height":190,"data":{"name":"p1"},"transform":[{"filter":{"field":"t","equal":"233K"}}],"mark":{"type":"line","clip":false},"encoding":{"x":{"field":"ppm","type":"quantitative","scale":{"domain":[42.83,51.85],"reverse":true,"nice":false,"zero":false},"axis":null},"y":{"field":"i","type":"quantitative","scale":{"domain":[0,190],"nice":false,"zero":false},"axis":null}}},
{"width":155,"height":190,"data":{"name":"p2"},"transform":[{"filter":{"field":"t","equal":"233K"}}],"mark":{"type":"line","clip":false},"encoding":{"x":{"field":"ppm","type":"quantitative","scale":{"domain":[20.33,24.64],"reverse":true,"nice":false,"zero":false},"axis":null},"y":{"field":"i","type":"quantitative","scale":{"domain":[0,190],"nice":false,"zero":false},"axis":null}}},
{"width":155,"height":190,"data":{"name":"p3"},"transform":[{"filter":{"field":"t","equal":"233K"}}],"mark":{"type":"line","clip":false},"encoding":{"x":{"field":"ppm","type":"quantitative","scale":{"domain":[-1.91,6.1],"reverse":true,"nice":false,"zero":false},"axis":null},"y":{"field":"i","type":"quantitative","scale":{"domain":[0,190],"nice":false,"zero":false},"axis":{"orient":"right","domain":false,"ticks":false,"labels":false,"title":"233K","titleAngle":0,"titleAlign":"left","titleBaseline":"middle","titleX":-3,"titleY":135,"titleFontSize":28,"titleFontWeight":200}}}},

{"width":156,"height":212,"data":{"name":"p1"},"transform":[{"filter":{"field":"t","equal":"213K"}}],"mark":{"type":"line","clip":false},"encoding":{"x":{"field":"ppm","type":"quantitative","scale":{"domain":[42.83,51.85],"reverse":true,"nice":false,"zero":false},"axis":{"orient":"bottom","offset":10,"values":[51,50,49,48,47,46,45,44,43],"labelExpr":"indexof([50,47,44], datum.value) >= 0 ? format(datum.value, '.1f') : ''","title":"PPM","labelPadding":7,"titlePadding":11}},"y":{"field":"i","type":"quantitative","scale":{"domain":[0,212],"nice":false,"zero":false},"axis":null}}},
{"width":155,"height":212,"data":{"name":"p2"},"transform":[{"filter":{"field":"t","equal":"213K"}}],"mark":{"type":"line","clip":false},"encoding":{"x":{"field":"ppm","type":"quantitative","scale":{"domain":[20.33,24.64],"reverse":true,"nice":false,"zero":false},"axis":{"orient":"bottom","offset":10,"values":[24,23,22,21],"labelExpr":"indexof([23,21], datum.value) >= 0 ? format(datum.value, '.1f') : ''","title":"PPM","labelPadding":7,"titlePadding":11}},"y":{"field":"i","type":"quantitative","scale":{"domain":[0,212],"nice":false,"zero":false},"axis":null}}},
{"width":155,"height":212,"data":{"name":"p3"},"transform":[{"filter":{"field":"t","equal":"213K"}}],"mark":{"type":"line","clip":false},"encoding":{"x":{"field":"ppm","type":"quantitative","scale":{"domain":[-1.91,6.1],"reverse":true,"nice":false,"zero":false},"axis":{"orient":"bottom","offset":10,"values":[6,5.25,4.5,3.75,3,2.25,1.5,0.75,0,-0.75,-1.5],"labelExpr":"indexof([6,3,0], datum.value) >= 0 ? format(datum.value, '.1f') : ''","title":"PPM","labelPadding":7,"titlePadding":11}},"y":{"field":"i","type":"quantitative","scale":{"domain":[0,212],"nice":false,"zero":false},"axis":{"orient":"right","domain":false,"ticks":false,"labels":false,"title":"213K","titleAngle":0,"titleAlign":"left","titleBaseline":"middle","titleX":-3,"titleY":178,"titleFontSize":28,"titleFontWeight":200}}}}
]
}
